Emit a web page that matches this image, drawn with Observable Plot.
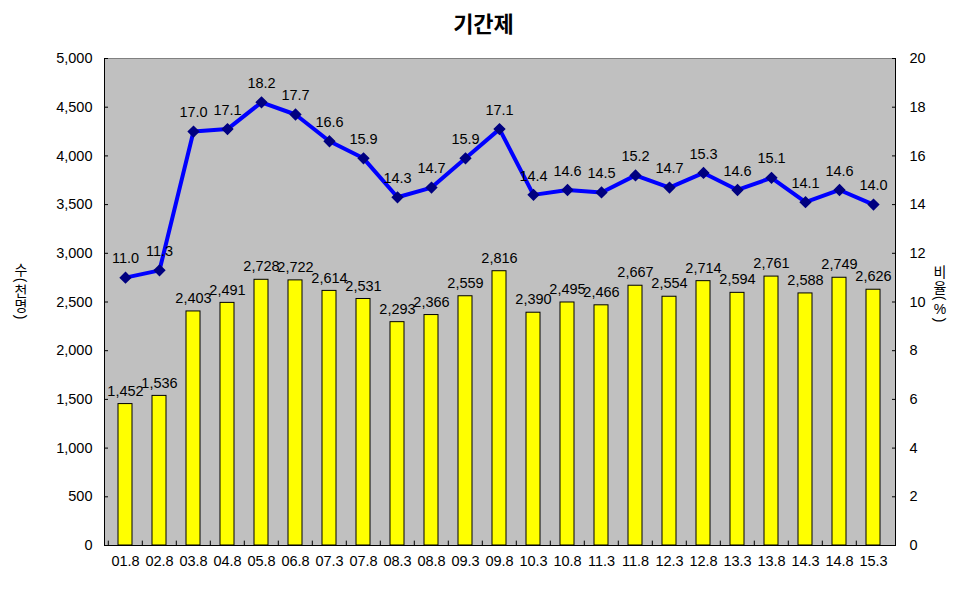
<!DOCTYPE html>
<html><head><meta charset="utf-8">
<script src="https://cdn.jsdelivr.net/npm/d3@7"></script>
<script src="https://cdn.jsdelivr.net/npm/@observablehq/plot@0.6"></script>
<style>
body{margin:0;background:#fff;font-family:"Liberation Sans",Arial,sans-serif;}
#wrap{position:relative;width:967px;height:590px;overflow:hidden;}
#title{box-sizing:border-box;height:44px;padding-top:22px;line-height:22px;text-align:center;font-family:"Noto Sans CJK KR",sans-serif;font-weight:bold;font-size:22px;color:#000;}
#title span{position:relative;top:-11px;}
</style></head><body>
<div id="wrap">
<div id="title"><span></span></div>
<div id="chart"></div>
</div>
<script>
const titleText = "기간제";
const leftLabel = "수(천명)";
const rightLabel = "비율(%)";
const categories = ["01.8","02.8","03.8","04.8","05.8","06.8","07.3","07.8","08.3","08.8","09.3","09.8","10.3","10.8","11.3","11.8","12.3","12.8","13.3","13.8","14.3","14.8","15.3"];
const workers = [1452,1536,2403,2491,2728,2722,2614,2531,2293,2366,2559,2816,2390,2495,2466,2667,2554,2714,2594,2761,2588,2749,2626];
const ratios = [11.0,11.3,17.0,17.1,18.2,17.7,16.6,15.9,14.3,14.7,15.9,17.1,14.4,14.6,14.5,15.2,14.7,15.3,14.6,15.1,14.1,14.6,14.0];
const leftTicks = d3.range(0, 5001, 500);
const rightMax = 20;
const leftMax = 5000;
const k = leftMax / rightMax;

document.querySelector("#title span").textContent = titleText;

const data = categories.map((c, i) => ({cat: c, workers: workers[i], ratio: ratios[i], ratioScaled: ratios[i] * k}));

const width = 967, height = 546, svgTop = 44;
const marginLeft = 104, marginRight = 72, marginTop = 14, marginBottom = 45;
const step = (width - marginLeft - marginRight) / categories.length;
const pad = 0.58;
const fmt = d3.format(",");
const fs = 14.5;

const chart = Plot.plot({
  width, height, marginLeft, marginRight, marginTop, marginBottom,
  style: {fontFamily: "'Liberation Sans', Arial, sans-serif", fontSize: fs + "px", color: "#000", background: "#fff"},
  x: {domain: categories, type: "band", paddingInner: pad, paddingOuter: pad / 2},
  y: {domain: [0, leftMax]},
  marks: [
    Plot.frame({fill: "#c0c0c0", stroke: "#000"}),
    Plot.ruleY([leftMax], {stroke: "#808080"}),
    Plot.barY(data, {x: "cat", y: "workers", fill: "#ffff00", stroke: "#000", strokeWidth: 1}),
    Plot.ruleX(categories, {x: d => d, dx: -step / 2, y1: 0, y2: 45, stroke: "#000"}),
    Plot.axisX({tickSize: 0, tickPadding: 10, fontSize: fs, label: null}),
    Plot.axisY(leftTicks, {anchor: "left", tickSize: -4, tickPadding: 16, tickFormat: fmt, fontSize: fs, label: null}),
    Plot.axisY(leftTicks, {anchor: "right", tickSize: -4, tickPadding: 18, tickFormat: d => d / k, fontSize: fs, label: null}),
    Plot.text(data, {x: "cat", y: "workers", text: d => fmt(d.workers), dy: -13, fontSize: fs, fill: "#000"}),
    Plot.line(data, {x: "cat", y: "ratioScaled", stroke: "#0000ff", strokeWidth: 4}),
    Plot.dot(data, {x: "cat", y: "ratioScaled", symbol: "diamond2", r: 4.6, fill: "#000080", stroke: "#000080"}),
    Plot.text(data, {x: "cat", y: "ratioScaled", text: d => d.ratio.toFixed(1), dy: -19, fontSize: fs, fill: "#000"})
  ]
});
document.getElementById("chart").appendChild(chart);

// stacked vertical axis titles (upright Hangul, rotated parentheses)
function stacked(text, cx, centers) {
  const g = d3.select(chart).append("g")
    .attr("font-family", "'Noto Sans CJK KR', 'Liberation Sans', sans-serif")
    .attr("font-size", 14).attr("fill", "#000");
  [...text].forEach((ch, i) => {
    const cy = centers[i] - svgTop;
    const t = g.append("text").attr("x", cx).attr("y", cy)
      .attr("text-anchor", "middle").attr("dominant-baseline", "central").text(ch);
    if (ch === "(" || ch === ")") {
      t.attr("font-family", "'Liberation Sans', sans-serif").attr("transform", `rotate(90 ${cx} ${cy})`);
    } else if (ch === "%") {
      t.attr("font-family", "'Liberation Sans', sans-serif");
    }
  });
}
stacked(leftLabel, 21, [269, 280, 290, 305, 317]);
stacked(rightLabel, 940, [271, 287, 298, 309, 320]);
</script>
</body></html>
